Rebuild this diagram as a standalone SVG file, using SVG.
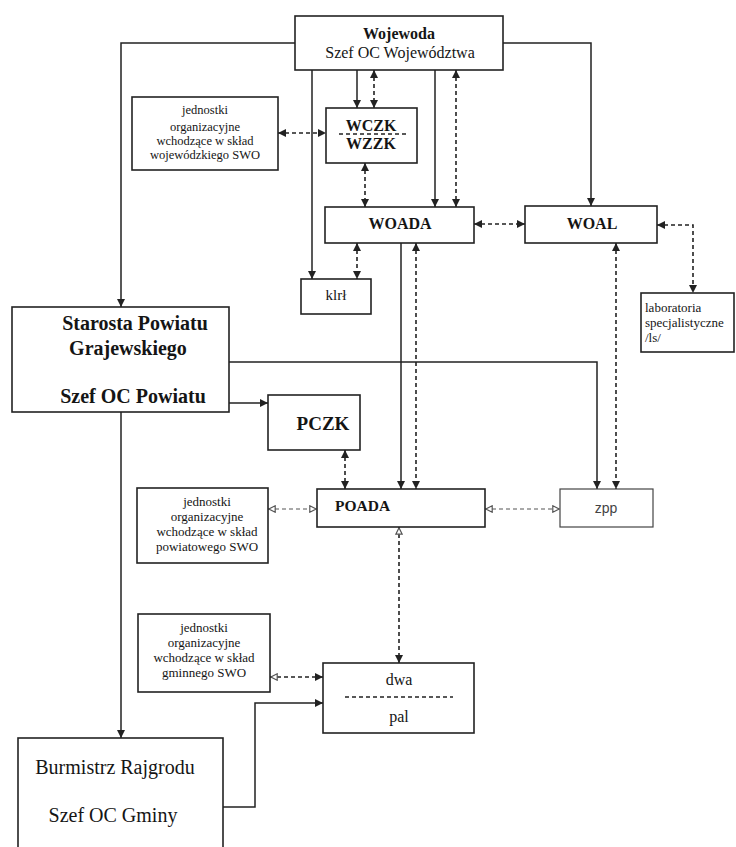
<svg xmlns="http://www.w3.org/2000/svg" width="736" height="847" viewBox="0 0 736 847">
<style>
.box{fill:#fff;stroke:#222;stroke-width:1.6}
.t{font-family:"Liberation Serif","Times New Roman",serif;fill:#151515}
.b{font-weight:bold}
.c{text-anchor:middle}
.ln{fill:none;stroke:#222;stroke-width:1.5}
.ds{fill:none;stroke:#222;stroke-width:1.6;stroke-dasharray:4 3}
.dl{fill:none;stroke:#555;stroke-width:1.1;stroke-dasharray:4 3}
.sep{stroke:#222;stroke-width:1.3;stroke-dasharray:4 3}
</style>
<defs>
<marker id="ah" viewBox="0 0 10 10" refX="10" refY="5" markerWidth="8" markerHeight="8" orient="auto-start-reverse" markerUnits="userSpaceOnUse"><path d="M0,0 L10,5 L0,10 z" fill="#222"/></marker>
<marker id="ahl" viewBox="0 0 10 10" refX="10" refY="5" markerWidth="8" markerHeight="8" orient="auto-start-reverse" markerUnits="userSpaceOnUse"><path d="M1,1 L9,5 L1,9 z" fill="#fff" stroke="#555" stroke-width="1.5"/></marker>
</defs>
<rect width="736" height="847" fill="#fff"/>
<g id="connectors">
<path class="ln" d="M295,43 H121 V307" marker-end="url(#ah)"/>
<path class="ln" d="M503,43 H591 V206" marker-end="url(#ah)"/>
<path class="ln" d="M312,70 V279" marker-end="url(#ah)"/>
<path class="ln" d="M357,70 V108" marker-end="url(#ah)"/>
<path class="ds" d="M374,70 V108" marker-start="url(#ah)" marker-end="url(#ah)"/>
<path class="ln" d="M435,70 V207" marker-end="url(#ah)"/>
<path class="ds" d="M456,70 V207" marker-start="url(#ah)" marker-end="url(#ah)"/>
<path class="ds" d="M278,133 H326" marker-start="url(#ah)" marker-end="url(#ah)"/>
<path class="ds" d="M365,163 V207" marker-start="url(#ah)" marker-end="url(#ah)"/>
<path class="ds" d="M474,224 H525" marker-start="url(#ah)" marker-end="url(#ah)"/>
<path class="ds" d="M657,225 H693 V293" marker-start="url(#ah)" marker-end="url(#ah)"/>
<path class="ds" d="M357,243 V279" marker-start="url(#ah)" marker-end="url(#ah)"/>
<path class="ln" d="M401,243 V489" marker-end="url(#ah)"/>
<path class="ds" d="M416,243 V489" marker-start="url(#ah)" marker-end="url(#ah)"/>
<path class="ds" d="M616,243 V489" marker-start="url(#ah)" marker-end="url(#ah)"/>
<path class="ln" d="M229,362 H597 V489" marker-end="url(#ah)"/>
<path class="ln" d="M229,403 H268" marker-end="url(#ah)"/>
<path class="ds" d="M345,450 V489" marker-start="url(#ah)" marker-end="url(#ah)"/>
<path class="dl" d="M268,509 H317" marker-start="url(#ahl)" marker-end="url(#ahl)"/>
<path class="dl" d="M485,509 H560" marker-start="url(#ahl)" marker-end="url(#ahl)"/>
<path class="ds" d="M399,527 V663" marker-start="url(#ahl)" marker-end="url(#ah)"/>
<path class="ln" d="M121,412 V738" marker-end="url(#ah)"/>
<path class="ds" d="M270,677 H323" marker-start="url(#ahl)" marker-end="url(#ah)"/>
<path class="ln" d="M223,807 H255 V703 H323" marker-end="url(#ah)"/>
</g>
<g id="wojewoda">
<rect class="box" x="295" y="16" width="208" height="54"/>
<text class="t b c" x="399" y="39" font-size="16">Wojewoda</text>
<text class="t c" x="400" y="58" font-size="16">Szef OC Województwa</text>
</g>
<g id="jednostki-woj">
<rect class="box" x="132" y="97" width="146" height="73"/>
<text class="t c" x="205" y="114" font-size="12.5">jednostki</text>
<text class="t c" x="205" y="131" font-size="12.5">organizacyjne</text>
<text class="t c" x="205" y="145" font-size="12.5">wchodzące w skład</text>
<text class="t c" x="205" y="159" font-size="12.5">wojewódzkiego SWO</text>
</g>
<g id="wczk">
<rect class="box" x="326" y="108" width="91" height="55"/>
<text class="t b c" x="371" y="131" font-size="16">WCZK</text>
<line class="sep" x1="339" y1="134" x2="408" y2="134"/>
<text class="t b c" x="371" y="149" font-size="16">WZZK</text>
</g>
<g id="woada">
<rect class="box" x="325" y="207" width="149" height="36"/>
<text class="t b c" x="400" y="229" font-size="16">WOADA</text>
</g>
<g id="woal">
<rect class="box" x="525" y="206" width="132" height="37"/>
<text class="t b c" x="592" y="229" font-size="16">WOAL</text>
</g>
<g id="klrl">
<rect class="box" x="301" y="279" width="70" height="35"/>
<text class="t c" x="336" y="300" font-size="15">klrł</text>
</g>
<g id="laboratoria">
<rect class="box" x="641" y="293" width="93" height="59"/>
<text class="t" x="645" y="312" font-size="13">laboratoria</text>
<text class="t" x="645" y="327" font-size="13">specjalistyczne</text>
<text class="t" x="645" y="342" font-size="13">/ls/</text>
</g>
<g id="starosta">
<rect class="box" x="12" y="307" width="217" height="105"/>
<text class="t b c" x="135" y="330" font-size="20">Starosta Powiatu</text>
<text class="t b c" x="128" y="355" font-size="20">Grajewskiego</text>
<text class="t b c" x="133" y="403" font-size="20">Szef OC Powiatu</text>
</g>
<g id="pczk">
<rect class="box" x="268" y="395" width="92" height="55"/>
<text class="t b c" x="323" y="430" font-size="19">PCZK</text>
</g>
<g id="jednostki-pow">
<rect class="box" x="137" y="488" width="131" height="75"/>
<text class="t c" x="207" y="506" font-size="13">jednostki</text>
<text class="t c" x="207" y="521" font-size="13">organizacyjne</text>
<text class="t c" x="207" y="536" font-size="13">wchodzące w skład</text>
<text class="t c" x="207" y="551" font-size="13">powiatowego SWO</text>
</g>
<g id="poada">
<rect class="box" x="317" y="489" width="168" height="38"/>
<text class="t b" x="335" y="511" font-size="15.5">POADA</text>
</g>
<g id="zpp">
<rect class="box" x="560" y="489" width="93" height="38" style="stroke:#444;stroke-width:1.2"/>
<text x="606" y="513" font-size="14" text-anchor="middle" font-family="Liberation Sans, Arial, sans-serif" fill="#444">zpp</text>
</g>
<g id="jednostki-gmin">
<rect class="box" x="138" y="614" width="132" height="78"/>
<text class="t c" x="204" y="632" font-size="13">jednostki</text>
<text class="t c" x="204" y="647" font-size="13">organizacyjne</text>
<text class="t c" x="204" y="662" font-size="13">wchodzące w skład</text>
<text class="t c" x="204" y="677" font-size="13">gminnego SWO</text>
</g>
<g id="dwa-pal">
<rect class="box" x="323" y="663" width="151" height="70"/>
<text class="t c" x="399" y="685" font-size="16">dwa</text>
<line class="sep" x1="345" y1="697" x2="453" y2="697"/>
<text class="t c" x="399" y="722" font-size="16">pal</text>
</g>
<g id="burmistrz">
<rect class="box" x="18" y="738" width="205" height="118"/>
<text class="t c" x="115" y="774" font-size="20">Burmistrz Rajgrodu</text>
<text class="t c" x="113" y="822" font-size="20">Szef OC Gminy</text>
</g>
</svg>
